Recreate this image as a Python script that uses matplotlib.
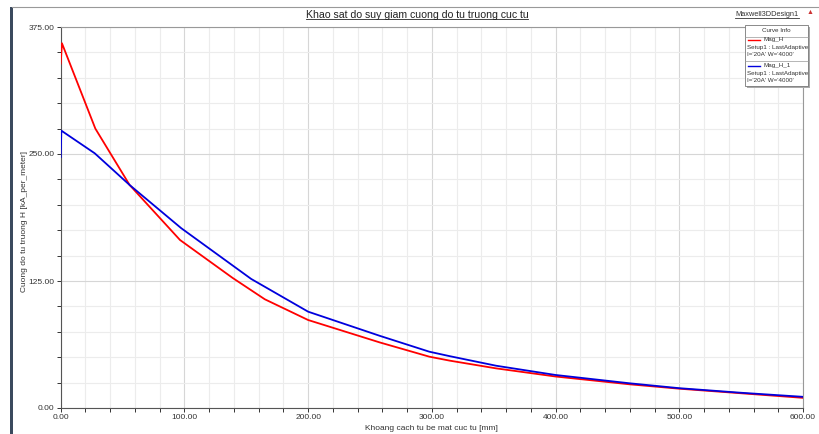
import matplotlib
matplotlib.use("Agg")
import matplotlib.pyplot as plt
from matplotlib.lines import Line2D
from matplotlib.patches import Rectangle
from matplotlib.ticker import MultipleLocator, FormatStrFormatter

plt.rcParams["font.family"] = ["Liberation Sans", "DejaVu Sans"]

# data
dist_red = [0, 1, 28, 55.7, 96.4, 139, 165, 200, 258, 298, 314.5, 352, 400, 460, 500, 550, 600]
mag_h = [339, 359, 275, 219.5, 165.4, 128, 107, 86.6, 64.5, 50.5, 46.6, 39, 31, 23.3, 19, 14.5, 10]

dist_blue = [0, 0.5, 27.5, 55.7, 97.4, 154, 200, 258, 298, 314.5, 352, 400, 460, 500, 550, 600]
mag_h_1 = [247, 273, 250.7, 219.5, 177, 127, 94.8, 71, 55.4, 51, 41.6, 32.5, 24.3, 19.5, 15, 11]

title = "Khao sat do suy giam cuong do tu truong cuc tu"
xlabel = "Khoang cach tu be mat cuc tu [mm]"
ylabel = "Cuong do tu truong H [kA_per_meter]"
legend_info = [("Mag_H", "red"), ("Mag_H_1", "#0000dd")]
setup_text = "Setup1 : LastAdaptive"
var_text = "I='20A' W='4000'"

W, H = 819, 434
fig = plt.figure(figsize=(W / 100, H / 100), dpi=100)


def fx(px):
    return px / W


def fy(py):
    return 1 - py / H


ax = fig.add_axes([fx(60.7), fy(408), fx(803) - fx(60.7), fy(27) - fy(408)])
ax.plot(dist_red, mag_h, color="red", lw=1.3, zorder=3)
ax.plot(dist_blue, mag_h_1, color=legend_info[1][1], lw=1.3, zorder=4)

ax.set_xlim(0, 600)
ax.set_ylim(0, 375)
ax.xaxis.set_major_locator(MultipleLocator(100))
ax.xaxis.set_minor_locator(MultipleLocator(20))
ax.yaxis.set_major_locator(MultipleLocator(125))
ax.yaxis.set_minor_locator(MultipleLocator(25))
ax.xaxis.set_major_formatter(FormatStrFormatter("%.2f"))
ax.yaxis.set_major_formatter(FormatStrFormatter("%.2f"))
ax.grid(True, which="major", color="#d6d6d6", lw=0.8)
ax.grid(True, which="minor", color="#ececec", lw=0.8)
ax.set_axisbelow(True)
ax.tick_params(which="both", labelsize=6, colors="#333333", length=3, width=0.7, pad=1.5)
for side in ["left", "bottom"]:
    ax.spines[side].set_color("#555555")
for side in ["top", "right"]:
    ax.spines[side].set_color("#999999")
ax.set_xlabel(xlabel, fontsize=6, color="#333333", labelpad=2.5)
ax.set_ylabel(ylabel, fontsize=6, color="#333333")
ax.yaxis.set_label_coords((28.5 - 60.7) / (803 - 60.7), 0.49)

# frame decorations
fig.add_artist(Line2D([fx(12), fx(819)], [fy(7), fy(7)], color="#999999", lw=0.8))
fig.add_artist(Rectangle((fx(10), 0), fx(2.5), fy(7), color="#3b4a5e", lw=0))

t = fig.text(fx(417), fy(15), title, ha="center", va="center", fontsize=7.6, color="#222222")
d = fig.text(fx(767), fy(15), "Maxwell3DDesign1", ha="center", va="center", fontsize=5.3, color="#333333")
fig.text(fx(810), fy(13), "\u25b2", ha="center", va="center", fontsize=5, color="#cc3333")

fig.canvas.draw()
r = fig.canvas.get_renderer()
for txt in (t, d):
    bb = txt.get_window_extent(r)
    fig.add_artist(Line2D([bb.x0 / W, bb.x1 / W], [(bb.y0 + 1) / H, (bb.y0 + 1) / H],
                          color=txt.get_color(), lw=0.6))

# legend box
lx0, lx1, ly0, ly1 = 745, 808, 25, 86
fig.add_artist(Rectangle((fx(lx0 + 2), fy(ly1 + 2)), fx(lx1 - lx0), fy(ly0) - fy(ly1),
                         facecolor="#aaaaaa", edgecolor="none", zorder=5))
fig.add_artist(Rectangle((fx(lx0), fy(ly1)), fx(lx1 - lx0), fy(ly0) - fy(ly1),
                         facecolor="white", edgecolor="#777777", lw=0.6, zorder=6))
fig.text(fx((lx0 + lx1) / 2), fy(30.5), "Curve Info", ha="center", va="center", fontsize=4.5, color="#333333", zorder=7)
for sep in (37, 61):
    fig.add_artist(Line2D([fx(lx0), fx(lx1)], [fy(sep), fy(sep)], color="#999999", lw=0.5, zorder=7))
for i, (name, col) in enumerate(legend_info):
    y0 = 40 + i * 26
    fig.add_artist(Line2D([fx(748), fx(760)], [fy(y0), fy(y0)], color=col, lw=1.0, zorder=7))
    fig.text(fx(764), fy(y0), name, ha="left", va="center", fontsize=4.5, color="#333333", zorder=7)
    fig.text(fx(747), fy(y0 + 8), setup_text, ha="left", va="center", fontsize=4.5, color="#333333", zorder=7)
    fig.text(fx(747), fy(y0 + 15), var_text, ha="left", va="center", fontsize=4.5, color="#333333", zorder=7)

fig.savefig("out.png", dpi=100)
plt.close(fig)
